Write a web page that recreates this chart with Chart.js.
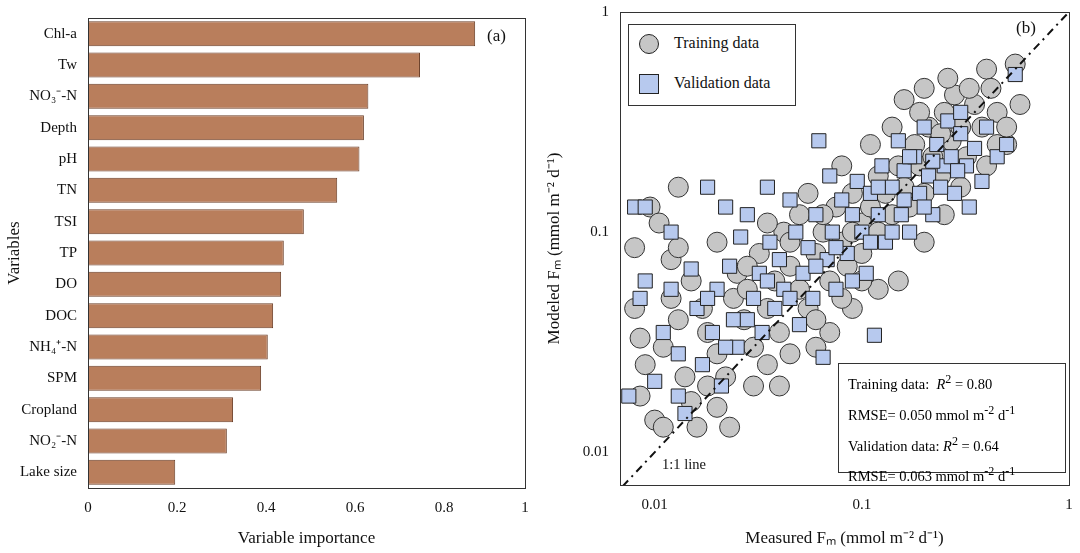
<!DOCTYPE html>
<html><head><meta charset="utf-8">
<script src="https://cdn.jsdelivr.net/npm/chart.js@4"></script>
<style>
body{margin:0;background:#fff;font-family:"Liberation Serif",serif;}
#wrap{position:relative;width:1080px;height:553px;}
canvas{position:absolute;top:0;}
.t{position:absolute;font-size:16px;color:#111;white-space:nowrap;}
#leg{position:absolute;left:628px;top:24px;width:166px;height:80px;border:1px solid #333;background:#fff;}
#stats{position:absolute;left:838px;top:363px;width:228px;height:110px;border:1px solid #333;background:#fff;font-size:14.5px;line-height:26px;padding:2px 0 0 9px;box-sizing:border-box;}
</style></head><body>
<div id="wrap">
<canvas id="c1" width="540" height="553" style="left:0"></canvas>
<canvas id="c2" width="540" height="553" style="left:540px"></canvas>
<div class="t" style="left:487px;top:26px;font-size:17px">(a)</div>
<div class="t" style="left:1016px;top:18px;font-size:17px">(b)</div>
<div id="leg">
 <div style="position:absolute;left:10px;top:9px;width:18px;height:18px;border-radius:50%;background:#c6c6c6;border:1px solid #222"></div>
 <div class="t" style="left:45px;top:9px">Training data</div>
 <div style="position:absolute;left:10px;top:49px;width:18px;height:18px;background:#b7c9ee;border:1px solid #222"></div>
 <div class="t" style="left:45px;top:49px">Validation data</div>
</div>
<div id="stats">
 <div>Training data:&nbsp; <i>R</i><sup>2</sup> = 0.80</div>
 <div>RMSE= 0.050 mmol m<sup>-2</sup> d<sup>-1</sup></div>
 <div>Validation data: <i>R</i><sup>2</sup> = 0.64</div>
 <div>RMSE= 0.063 mmol m<sup>-2</sup> d<sup>-1</sup></div>
</div>
<div class="t" style="left:662px;top:456px;font-size:14.5px">1:1 line</div>
</div>
<script>
const variables = ['Chl-a','Tw','NO₃⁻-N','Depth','pH','TN','TSI','TP','DO','DOC','NH₄⁺-N','SPM','Cropland','NO₂⁻-N','Lake size'];
const importance = [0.87,0.746,0.63,0.62,0.61,0.56,0.485,0.44,0.434,0.416,0.404,0.389,0.326,0.312,0.196];

const trainingData = [[0.008,0.085],[0.008,0.045],[0.0085,0.033],[0.009,0.025],[0.0085,0.018],[0.01,0.014],[0.011,0.013],[0.0095,0.13],[0.0105,0.11],[0.012,0.075],[0.012,0.05],[0.013,0.04],[0.011,0.03],[0.014,0.022],[0.015,0.017],[0.016,0.013],[0.013,0.085],[0.015,0.06],[0.017,0.045],[0.018,0.035],[0.02,0.028],[0.022,0.022],[0.02,0.016],[0.024,0.05],[0.025,0.065],[0.027,0.04],[0.03,0.03],[0.028,0.055],[0.032,0.08],[0.035,0.045],[0.038,0.06],[0.04,0.035],[0.042,0.1],[0.045,0.07],[0.05,0.055],[0.05,0.12],[0.055,0.045],[0.06,0.08],[0.065,0.1],[0.07,0.06],[0.075,0.13],[0.08,0.09],[0.085,0.07],[0.09,0.15],[0.1,0.11],[0.1,0.08],[0.11,0.13],[0.12,0.1],[0.12,0.18],[0.13,0.15],[0.14,0.12],[0.15,0.2],[0.16,0.16],[0.17,0.13],[0.18,0.25],[0.19,0.2],[0.2,0.15],[0.21,0.3],[0.22,0.22],[0.24,0.18],[0.25,0.35],[0.27,0.26],[0.28,0.42],[0.3,0.3],[0.32,0.22],[0.35,0.38],[0.38,0.3],[0.4,0.55],[0.42,0.45],[0.45,0.35],[0.5,0.25],[0.55,0.58],[0.58,0.38],[0.33,0.45],[0.26,0.5],[0.15,0.06],[0.12,0.055],[0.09,0.045],[0.07,0.035],[0.06,0.03],[0.045,0.028],[0.035,0.025],[0.03,0.02],[0.023,0.013],[0.018,0.02],[0.04,0.02],[0.06,0.04],[0.08,0.05],[0.1,0.06],[0.2,0.09],[0.25,0.12],[0.3,0.16],[0.4,0.2],[0.45,0.25],[0.5,0.3],[0.013,0.16],[0.02,0.09],[0.035,0.11],[0.055,0.15],[0.08,0.2],[0.11,0.25],[0.14,0.3],[0.16,0.4],[0.2,0.45],[0.19,0.35],[0.24,0.28],[0.028,0.07],[0.045,0.09],[0.065,0.12],[0.09,0.1]];

const validationData = [[0.008,0.13],[0.009,0.13],[0.009,0.06],[0.0085,0.05],[0.0075,0.018],[0.01,0.021],[0.011,0.035],[0.012,0.1],[0.012,0.055],[0.013,0.028],[0.013,0.018],[0.014,0.015],[0.015,0.068],[0.016,0.045],[0.017,0.025],[0.018,0.16],[0.019,0.035],[0.02,0.055],[0.021,0.02],[0.022,0.13],[0.023,0.07],[0.024,0.04],[0.025,0.03],[0.026,0.095],[0.028,0.12],[0.03,0.05],[0.032,0.065],[0.033,0.035],[0.035,0.16],[0.036,0.09],[0.038,0.045],[0.04,0.075],[0.042,0.055],[0.045,0.14],[0.048,0.1],[0.05,0.038],[0.052,0.065],[0.055,0.085],[0.058,0.05],[0.06,0.12],[0.062,0.26],[0.065,0.027],[0.068,0.075],[0.07,0.18],[0.072,0.1],[0.075,0.055],[0.08,0.14],[0.085,0.08],[0.09,0.12],[0.095,0.17],[0.1,0.1],[0.105,0.065],[0.11,0.15],[0.115,0.034],[0.12,0.12],[0.125,0.2],[0.13,0.09],[0.14,0.16],[0.15,0.26],[0.155,0.12],[0.16,0.19],[0.17,0.1],[0.18,0.22],[0.19,0.15],[0.2,0.3],[0.21,0.18],[0.22,0.12],[0.23,0.25],[0.25,0.2],[0.26,0.32],[0.28,0.15],[0.3,0.28],[0.32,0.2],[0.35,0.24],[0.38,0.17],[0.4,0.3],[0.45,0.22],[0.5,0.25],[0.55,0.52],[0.3,0.35],[0.27,0.22],[0.24,0.16],[0.2,0.13],[0.17,0.22],[0.14,0.1],[0.11,0.09],[0.09,0.06],[0.075,0.085],[0.06,0.07],[0.045,0.05],[0.035,0.06],[0.028,0.04],[0.022,0.03],[0.018,0.05],[0.12,0.16],[0.16,0.14],[0.22,0.21],[0.29,0.19],[0.33,0.13]];

const oneToOne = [[0.007,0.007],[1,1]];
const logTicks = [0.01,0.1,1];

Chart.defaults.font.family = '"Liberation Serif", serif';
Chart.defaults.color = '#111';
Chart.defaults.animation = false;

// box round the plot area
const frame = {
  id: 'frame',
  afterDraw(chart) {
    const a = chart.chartArea, c = chart.ctx;
    c.save(); c.strokeStyle = '#333'; c.lineWidth = 1;
    c.strokeRect(a.left + 0.5, a.top + 0.5, a.right - a.left, a.bottom - a.top);
    c.restore();
  }
};

new Chart(document.getElementById('c1'), {
  type: 'bar',
  data: {
    labels: variables,
    datasets: [{
      data: importance,
      backgroundColor: '#b97e5c',
      borderColor: '#6b3f28',
      borderWidth: 1,
      categoryPercentage: 0.8,
      barPercentage: 1
    }]
  },
  options: {
    indexAxis: 'y',
    responsive: false,
    layout: { padding: { top: 18, right: 15 } },
    plugins: { legend: { display: false }, tooltip: { enabled: false } },
    scales: {
      x: {
        min: 0, max: 0.982,
        grid: { display: false, drawTicks: true },
        border: { color: '#333' },
        ticks: { stepSize: 0.2, font: { size: 15 }, callback: v => v === 0 ? '0' : Math.round(v * 10) / 10 },
        title: { display: true, text: 'Variable importance', font: { size: 17 } },
        afterFit: s => { s.height = 65; }
      },
      y: {
        grid: { display: false },
        border: { color: '#333' },
        ticks: { font: { size: 15 } },
        title: { display: true, text: 'Variables', font: { size: 17 } },
        afterFit: s => { s.width = 88; }
      }
    }
  },
  plugins: [frame]
});

new Chart(document.getElementById('c2'), {
  type: 'scatter',
  data: {
    datasets: [
      {
        data: oneToOne.map(p => ({ x: p[0], y: p[1] })),
        showLine: true, pointRadius: 0,
        borderColor: '#111', borderWidth: 2, borderDash: [8, 5, 2, 5],
        order: 0
      },
      {
        data: trainingData.map(p => ({ x: p[0], y: p[1] })),
        pointStyle: 'circle', pointRadius: 10,
        backgroundColor: '#c6c6c6', borderColor: '#333', borderWidth: 1,
        order: 2
      },
      {
        data: validationData.map(p => ({ x: p[0], y: p[1] })),
        pointStyle: 'rect', pointRadius: 10,
        backgroundColor: '#b7c9ee', borderColor: '#222', borderWidth: 1,
        order: 1
      }
    ]
  },
  options: {
    responsive: false,
    layout: { padding: { top: 8, right: 10 } },
    plugins: { legend: { display: false }, tooltip: { enabled: false } },
    scales: {
      x: {
        type: 'logarithmic', min: 0.0068, max: 1,
        grid: { display: false },
        border: { color: '#333' },
        afterBuildTicks: s => { s.ticks = logTicks.map(v => ({ value: v })); },
        ticks: { font: { size: 15 }, callback: v => String(v) },
        title: { display: true, text: 'Measured Fₘ (mmol m⁻² d⁻¹)', font: { size: 17 } },
        afterFit: s => { s.height = 68; }
      },
      y: {
        type: 'logarithmic', min: 0.0071, max: 1,
        grid: { display: false },
        border: { color: '#333' },
        afterBuildTicks: s => { s.ticks = logTicks.map(v => ({ value: v })); },
        ticks: { font: { size: 15 }, callback: v => String(v) },
        title: { display: true, text: 'Modeled Fₘ (mmol m⁻² d⁻¹)', font: { size: 17 } },
        afterFit: s => { s.width = 80; }
      }
    }
  },
  plugins: [frame]
});
</script>
</body></html>
